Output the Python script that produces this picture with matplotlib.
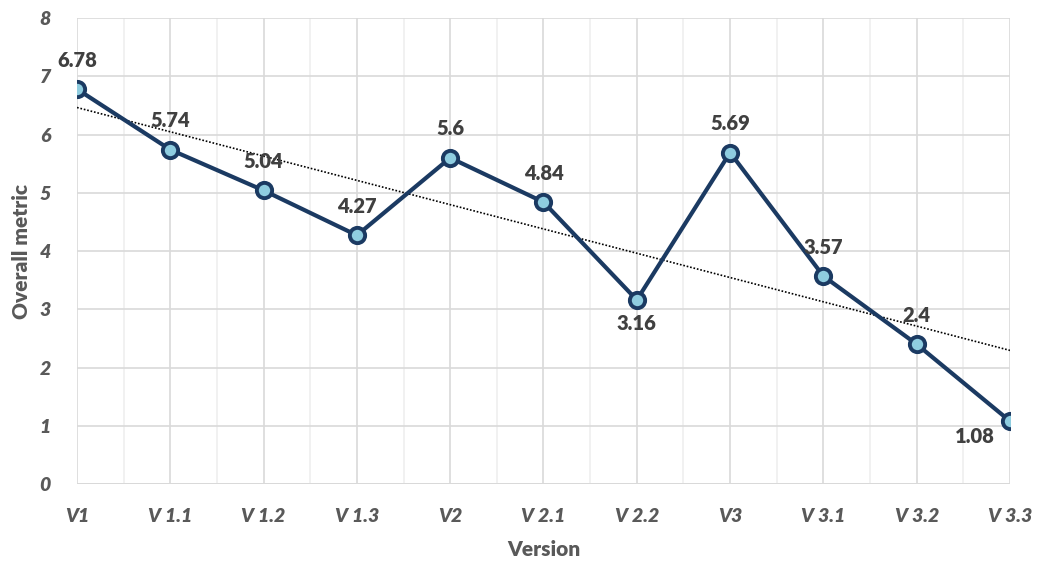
import numpy as np
import matplotlib
matplotlib.use("Agg")
import matplotlib.pyplot as plt
from matplotlib.ticker import MultipleLocator

versions = ["V1", "V 1.1", "V 1.2", "V 1.3", "V2", "V 2.1", "V 2.2", "V3", "V 3.1", "V 3.2", "V 3.3"]
metric = [6.78, 5.74, 5.04, 4.27, 5.6, 4.84, 3.16, 5.69, 3.57, 2.4, 1.08]
label_text = ["6.78", "5.74", "5.04", "4.27", "5.6", "4.84", "3.16", "5.69", "3.57", "2.4", "1.08"]

plt.rcParams['font.family'] = ['Lato', 'DejaVu Sans']

fig = plt.figure(figsize=(10.38, 5.64), dpi=100)
ax = fig.add_axes([0.0742, 0.1418, 0.8988, 0.8262])

x = np.arange(len(versions))
navy = "#1b3a62"
ax.plot(x, metric, color=navy, lw=3.0, marker='o', ms=11, mfc="#8fcde0",
        mec=navy, mew=2.8, zorder=4, solid_joinstyle='round')

# linear trendline
coef = np.polyfit(x, metric, 1)
ax.plot(x, np.polyval(coef, x), color='black', lw=1.2, ls=(0, (1, 1.1)), zorder=3)

# data labels
lab_kw = dict(textcoords='offset points', fontsize=14.5, fontweight='heavy', color='#404040', zorder=5)
for xv, yv, t in zip(x, metric, label_text):
    if t == "3.16":
        ax.annotate(t, (xv, yv), xytext=(0, -10), ha='center', va='top', **lab_kw)
    elif t == "1.08":
        ax.annotate(t, (xv, yv), xytext=(-11, -4), ha='right', va='top', **lab_kw)
    else:
        ax.annotate(t, (xv, yv), xytext=(0, 14), ha='center', va='bottom', **lab_kw)

ax.set_xlim(0, len(versions) - 1)
ax.set_ylim(0, 8)
ax.set_xticks(x)
ax.set_xticklabels(versions)
ax.xaxis.set_minor_locator(MultipleLocator(0.5))
ax.yaxis.set_major_locator(MultipleLocator(1))

for lab in ax.get_xticklabels() + ax.get_yticklabels():
    lab.set_fontstyle('italic')
    lab.set_fontweight('heavy')
    lab.set_color('#595959')
    lab.set_fontsize(14)

ax.tick_params(axis='both', which='both', length=0)
ax.tick_params(axis='x', pad=17)
ax.tick_params(axis='y', pad=19)

ax.grid(True, which='major', color='#d9d9d9', lw=1.2, zorder=0)
ax.grid(True, which='minor', axis='x', color='#efefef', lw=1.2, zorder=0)
ax.set_axisbelow(True)
for s in ax.spines.values():
    s.set_visible(False)
ax.axhline(0, color='#d9d9d9', lw=1.3, zorder=1)

ax.set_xlabel("Version", fontsize=15, fontweight='heavy', color='#595959', labelpad=11)
ax.set_ylabel("Overall metric", fontsize=15, fontweight='heavy', color='#595959', labelpad=6)

fig.savefig("out.png", dpi=100)
